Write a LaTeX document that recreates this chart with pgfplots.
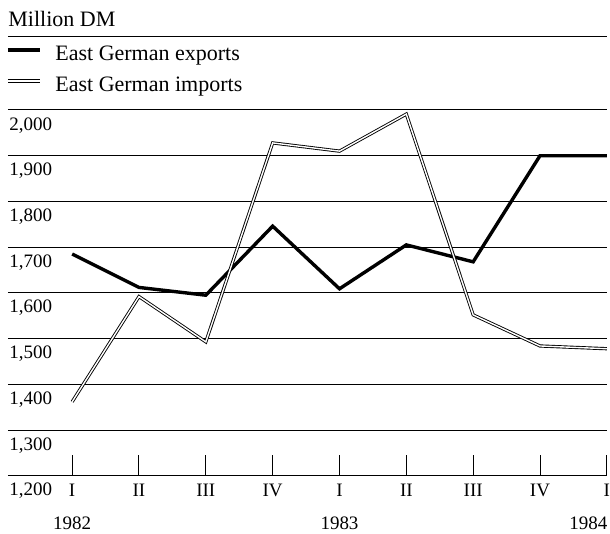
\documentclass[border=0pt]{standalone}
\usepackage{fontspec}
\setmainfont{Liberation Serif}
\usepackage{pgfplots}
\pgfplotsset{compat=1.18}

% quarters 1982 I ... 1984 I at x = 0..8
\pgfplotstableread{
q  exports imports
0  1685    1362
1  1612    1592
2  1595    1493
3  1746    1928
4  1609    1910
5  1705    1991
6  1668    1552
7  1900    1484
8  1900    1478
}\tradedata

\begin{document}
\begin{tikzpicture}
\begin{axis}[
  scale only axis, width=299.5pt, height=183pt,
  xmin=-0.96, xmax=8, ymin=1200, ymax=2000,
  axis line style={draw=none},
  xtick={0,...,8}, xticklabels={I,II,III,IV,I,II,III,IV,I},
  xtick pos=bottom, tick align=inside, major tick length=10.5pt,
  xtick style={black, line width=0.5pt},
  ytick={1200,1300,...,2000},
  yticklabels={{1,200},{1,300},{1,400},{1,500},{1,600},{1,700},{1,800},{1,900},{2,000}},
  ytick style={draw=none},
  ymajorgrids, grid style={black, line width=0.5pt},
  yticklabel style={anchor=north west, inner sep=0pt, xshift=0.5pt, yshift=-3.5pt},
  xticklabel style={anchor=north, inner sep=0pt, yshift=-4pt},
  tick label style={font=\fontsize{9.5}{11}\selectfont},
  clip=false,
]
\addplot[black, line width=1.7pt] table[x=q, y=exports] {\tradedata};
\addplot[black, line width=0.45pt, double=white, double distance=0.7pt] table[x=q, y=imports] {\tradedata};

% years under the quarters
\node[anchor=north, inner sep=0pt, font=\fontsize{9.5}{11}\selectfont] at ([yshift=-20.5pt]axis cs:0,1200) {1982};
\node[anchor=north, inner sep=0pt, font=\fontsize{9.5}{11}\selectfont] at ([yshift=-20.5pt]axis cs:4,1200) {1983};
\node[anchor=north east, inner sep=0pt, font=\fontsize{9.5}{11}\selectfont] at ([xshift=0.5pt,yshift=-20.5pt]axis cs:8,1200) {1984};

% header and legend
\node[anchor=base west, inner sep=0pt, font=\fontsize{11}{13}\selectfont] at ([yshift=41.5pt]axis description cs:0,1) {Million DM};
\draw[line width=0.5pt] ([yshift=36.5pt]axis description cs:0,1) -- ([yshift=36.5pt]axis description cs:1,1);
\draw[line width=2.2pt] ([yshift=30pt]axis description cs:0,1) -- ([xshift=16pt,yshift=30pt]axis description cs:0,1);
\draw[line width=0.45pt, double=white, double distance=0.7pt] ([yshift=14.5pt]axis description cs:0,1) -- ([xshift=16pt,yshift=14.5pt]axis description cs:0,1);
\node[anchor=base west, inner sep=0pt, font=\fontsize{11}{13}\selectfont] at ([xshift=23.5pt,yshift=24.5pt]axis description cs:0,1) {East German exports};
\node[anchor=base west, inner sep=0pt, font=\fontsize{11}{13}\selectfont] at ([xshift=23.5pt,yshift=9pt]axis description cs:0,1) {East German imports};

\path ([xshift=-4pt,yshift=-29pt]axis description cs:0,0) rectangle ([xshift=1.5pt,yshift=55pt]axis description cs:1,1);
\end{axis}
\end{tikzpicture}
\end{document}
